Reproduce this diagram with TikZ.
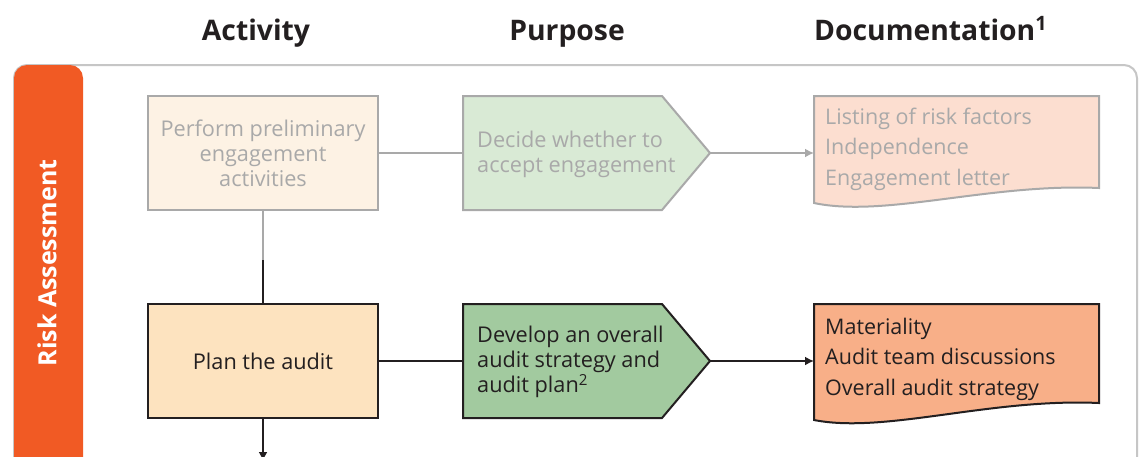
\documentclass[tikz,border=0pt]{standalone}
\usepackage{fontspec}
\setmainfont{Open Sans}
\usetikzlibrary{arrows.meta}
\definecolor{frameG}{HTML}{C6C6C6}
\definecolor{barO}{HTML}{F15A24}
\definecolor{paleG}{HTML}{A9A9A9}
\definecolor{ink}{HTML}{231F20}
\definecolor{f1}{HTML}{FDF2E4}
\definecolor{f2}{HTML}{D9EAD5}
\definecolor{f3}{HTML}{FCDED0}
\definecolor{f4}{HTML}{FDE3BF}
\definecolor{f5}{HTML}{A2CA9F}
\definecolor{f6}{HTML}{F8AF88}
\begin{document}
\begin{tikzpicture}[x=1pt,y=-1pt,
  head/.style={font=\fontsize{28.3}{30}\bfseries\selectfont, text=ink, inner sep=0},
  body/.style={font=\fontsize{21.7}{25}\selectfont, inner sep=0},
  doctxt/.style={font=\fontsize{21.5}{30.5}\selectfont, inner sep=0, align=left, anchor=west},
  pale/.style={draw=paleG, line width=2pt},
  dark/.style={draw=ink, line width=2pt},
  palec/.style={paleG, line width=2pt},
  darkc/.style={ink, line width=2pt},
  tip/.style={-{Latex[length=9pt,width=9pt]}}
]
\useasboundingbox (0,0) rectangle (1139,456);
\clip (0,0) rectangle (1139,456);
\fill[white] (0,0) rectangle (1139,456);

% headers
\node[head,anchor=base] (hact) at (256,40) {Activity};
\node[head,anchor=base] (hpur) at (567,40) {Purpose};
\node[head,anchor=base west] (hdoc) at (814,40) {Documentation\textsuperscript{1}};

% frame and side bar
\draw[frameG, line width=2pt, rounded corners=13pt] (14,65) rectangle (1137,490);
\fill[barO, rounded corners=13pt] (14,65) rectangle (83,490);
\node[font=\fontsize{25}{28}\bfseries\selectfont, text=white, rotate=90, inner sep=0] (risk) at (47,263) {Risk Assessment};

% ---- top row (faded) ----
\node[body, pale, fill=f1, minimum width=230pt, minimum height=114pt, align=center, text=paleG] (prelim) at (263,153)
  {Perform preliminary\\engagement\\activities};
\filldraw[pale, fill=f2] (463,96) -- (662,96) -- (710,153) -- (662,210) -- (463,210) -- cycle;
\node[body, align=left, anchor=west, text=paleG] (decide) at (477,154) {Decide whether to\\accept engagement};
\coordinate (decL) at (463,153);
\coordinate (decR) at (710,153);
\filldraw[pale, fill=f3] (814,96) -- (1099,96) -- (1099,188) .. controls (990,183) and (885,218) .. (814,203) -- cycle;
\node[doctxt, text=paleG] (doc1) at (825,149) {Listing of risk factors\\Independence\\Engagement letter};
\coordinate (doc1L) at (814,153);

% ---- bottom row ----
\node[body, dark, fill=f4, minimum width=230pt, minimum height=114pt, align=center, text=ink] (plan) at (263,361)
  {Plan the audit};
\filldraw[dark, fill=f5] (463,304) -- (662,304) -- (710,361) -- (662,418) -- (463,418) -- cycle;
\node[body, align=left, anchor=west, text=ink] (develop) at (477,362) {Develop an overall\\audit strategy and\\audit plan\textsuperscript{2}};
\coordinate (devL) at (463,361);
\coordinate (devR) at (710,361);
\filldraw[dark, fill=f6] (814,304) -- (1099,304) -- (1099,403) .. controls (990,398) and (885,434) .. (814,420) -- cycle;
\node[doctxt, text=ink] (doc2) at (825,359) {Materiality\\Audit team discussions\\Overall audit strategy};
\coordinate (doc2L) at (814,361);

% ---- connectors ----
\coordinate (mid) at (263,260);
\coordinate (down) at (263,461);
\draw[palec] (prelim.east) -- (decL);
\draw[palec, tip] (decR) -- (doc1L);
\draw[palec] (prelim.south) -- (mid);
\draw[darkc] (mid) -- (plan.north);
\draw[darkc] (plan.east) -- (devL);
\draw[darkc, tip] (devR) -- (doc2L);
\draw[darkc, tip] (plan.south) -- (down);
\end{tikzpicture}
\end{document}
